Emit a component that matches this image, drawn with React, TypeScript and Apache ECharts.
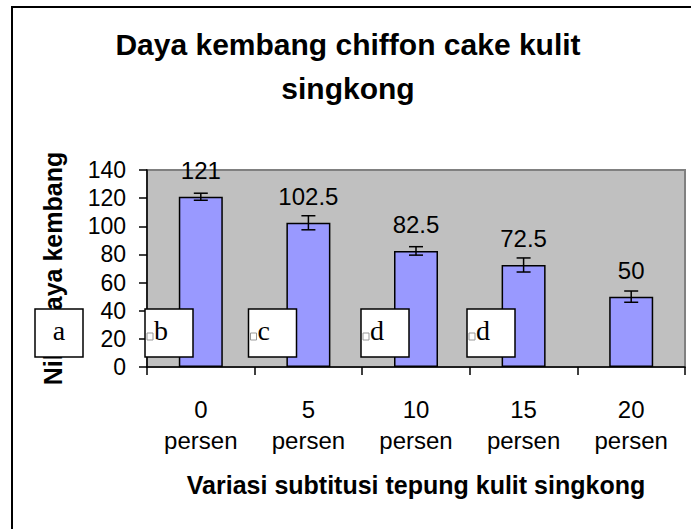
import React, { useEffect, useRef } from "react";
import * as echarts from "echarts";

const categories = ["0\npersen", "5\npersen", "10\npersen", "15\npersen", "20\npersen"];
const values = [121, 102.5, 82.5, 72.5, 50];
const errors = [2.5, 5, 3, 5, 4];
const yTicks = { min: 0, max: 140, interval: 20 };
const boxLetters = ["a", "b", "c", "d", "d"];
const titleText = "Daya kembang chiffon cake kulit\nsingkong";
const xTitle = "Variasi subtitusi tepung kulit singkong";
const yTitle = "Nilai daya kembang";

// layout of the overlaid letter boxes (pixels)
const boxLayout = [
  { x: 35, centered: true, icon: false },
  { x: 145, centered: false, icon: true },
  { x: 248.5, centered: false, icon: true },
  { x: 361, centered: false, icon: true },
  { x: 467, centered: false, icon: true },
];

const SANS = "'Liberation Sans', Arial, sans-serif";
const SERIF = "'Liberation Serif', 'Times New Roman', serif";

export default function App() {
  const ref = useRef<HTMLDivElement>(null);
  useEffect(() => {
    if (!ref.current) return;
    const chart = echarts.init(ref.current, undefined, { renderer: "svg" });
    const boxY = 309;
    const boxS = 48;
    const graphics: any[] = [
      {
        type: "rect",
        z: 0,
        silent: true,
        shape: { x: 12, y: 7, width: 900, height: 900 },
        style: { fill: "none", stroke: "#000", lineWidth: 2 },
      },
    ];
    boxLetters.forEach((letter, i) => {
      const b = boxLayout[i];
      graphics.push({
        type: "rect",
        z: 100,
        shape: { x: b.x, y: boxY, width: boxS, height: boxS },
        style: { fill: "#fff", stroke: "#000", lineWidth: 1.5 },
      });
      if (b.icon) {
        graphics.push({
          type: "rect",
          z: 101,
          shape: { x: b.x + 2, y: boxY + 24, width: 6, height: 7 },
          style: { fill: "#fff", stroke: "#999", lineWidth: 1 },
        });
      }
      graphics.push({
        type: "text",
        z: 102,
        x: b.centered ? b.x + boxS / 2 : b.x + 9,
        y: boxY + 21,
        style: {
          text: letter,
          fill: "#000",
          font: `28px ${SERIF}`,
          align: b.centered ? "center" : "left",
          verticalAlign: "middle",
        },
      });
    });

    chart.setOption({
      animation: false,
      backgroundColor: "#fff",
      title: {
        text: titleText,
        left: 343,
        top: 17,
        textAlign: "center",
        textStyle: {
          fontFamily: SANS,
          fontSize: 30,
          fontWeight: "bold",
          color: "#000",
          lineHeight: 44,
        },
      },
      grid: {
        left: 147,
        right: 6,
        top: 170,
        bottom: 162,
        show: true,
        backgroundColor: "#C0C0C0",
        borderColor: "#808080",
        borderWidth: 2,
      },
      xAxis: {
        type: "category",
        data: categories,
        axisLine: { lineStyle: { color: "#000", width: 1.5 } },
        axisTick: { show: true, length: 8, lineStyle: { color: "#000", width: 1.5 } },
        axisLabel: {
          fontFamily: SANS,
          fontSize: 24,
          color: "#000",
          lineHeight: 31,
          margin: 27,
        },
        name: xTitle,
        nameLocation: "middle",
        nameGap: 105,
        nameTextStyle: { fontFamily: SANS, fontSize: 25, fontWeight: "bold", color: "#000" },
      },
      yAxis: {
        type: "value",
        min: yTicks.min,
        max: yTicks.max,
        interval: yTicks.interval,
        axisLine: { show: true, lineStyle: { color: "#000", width: 1.5 } },
        axisTick: { show: true, length: 8, lineStyle: { color: "#000", width: 1.5 } },
        axisLabel: { fontFamily: SANS, fontSize: 23, color: "#000", margin: 21 },
        splitLine: { show: false },
        name: yTitle,
        nameLocation: "middle",
        nameGap: 82,
        nameRotate: 90,
        nameTextStyle: { fontFamily: SANS, fontSize: 25, fontWeight: "bold", color: "#000" },
      },
      series: [
        {
          type: "bar",
          data: values,
          barWidth: 44,
          itemStyle: { color: "#9999FF", borderColor: "#000", borderWidth: 1.5 },
          label: {
            show: true,
            position: "top",
            distance: 14,
            fontFamily: SANS,
            fontSize: 24,
            color: "#000",
          },
        },
        {
          type: "custom",
          z: 5,
          data: values.map((v, i) => [i, v - errors[i], v + errors[i]]),
          encode: { x: 0, y: [1, 2] },
          renderItem: (params: any, api: any) => {
            const idx = api.value(0);
            const lo = api.coord([idx, api.value(1)]);
            const hi = api.coord([idx, api.value(2)]);
            const hw = 7;
            const st = { stroke: "#000", lineWidth: 1.5 };
            return {
              type: "group",
              children: [
                { type: "line", shape: { x1: lo[0], y1: lo[1], x2: hi[0], y2: hi[1] }, style: st },
                { type: "line", shape: { x1: lo[0] - hw, y1: lo[1], x2: lo[0] + hw, y2: lo[1] }, style: st },
                { type: "line", shape: { x1: hi[0] - hw, y1: hi[1], x2: hi[0] + hw, y2: hi[1] }, style: st },
              ],
            };
          },
        },
      ],
      graphic: graphics,
    });
    return () => chart.dispose();
  }, []);
  return (
    <div
      ref={ref}
      style={{ position: "fixed", left: 0, top: 0, width: 691, height: 529 }}
    />
  );
}
